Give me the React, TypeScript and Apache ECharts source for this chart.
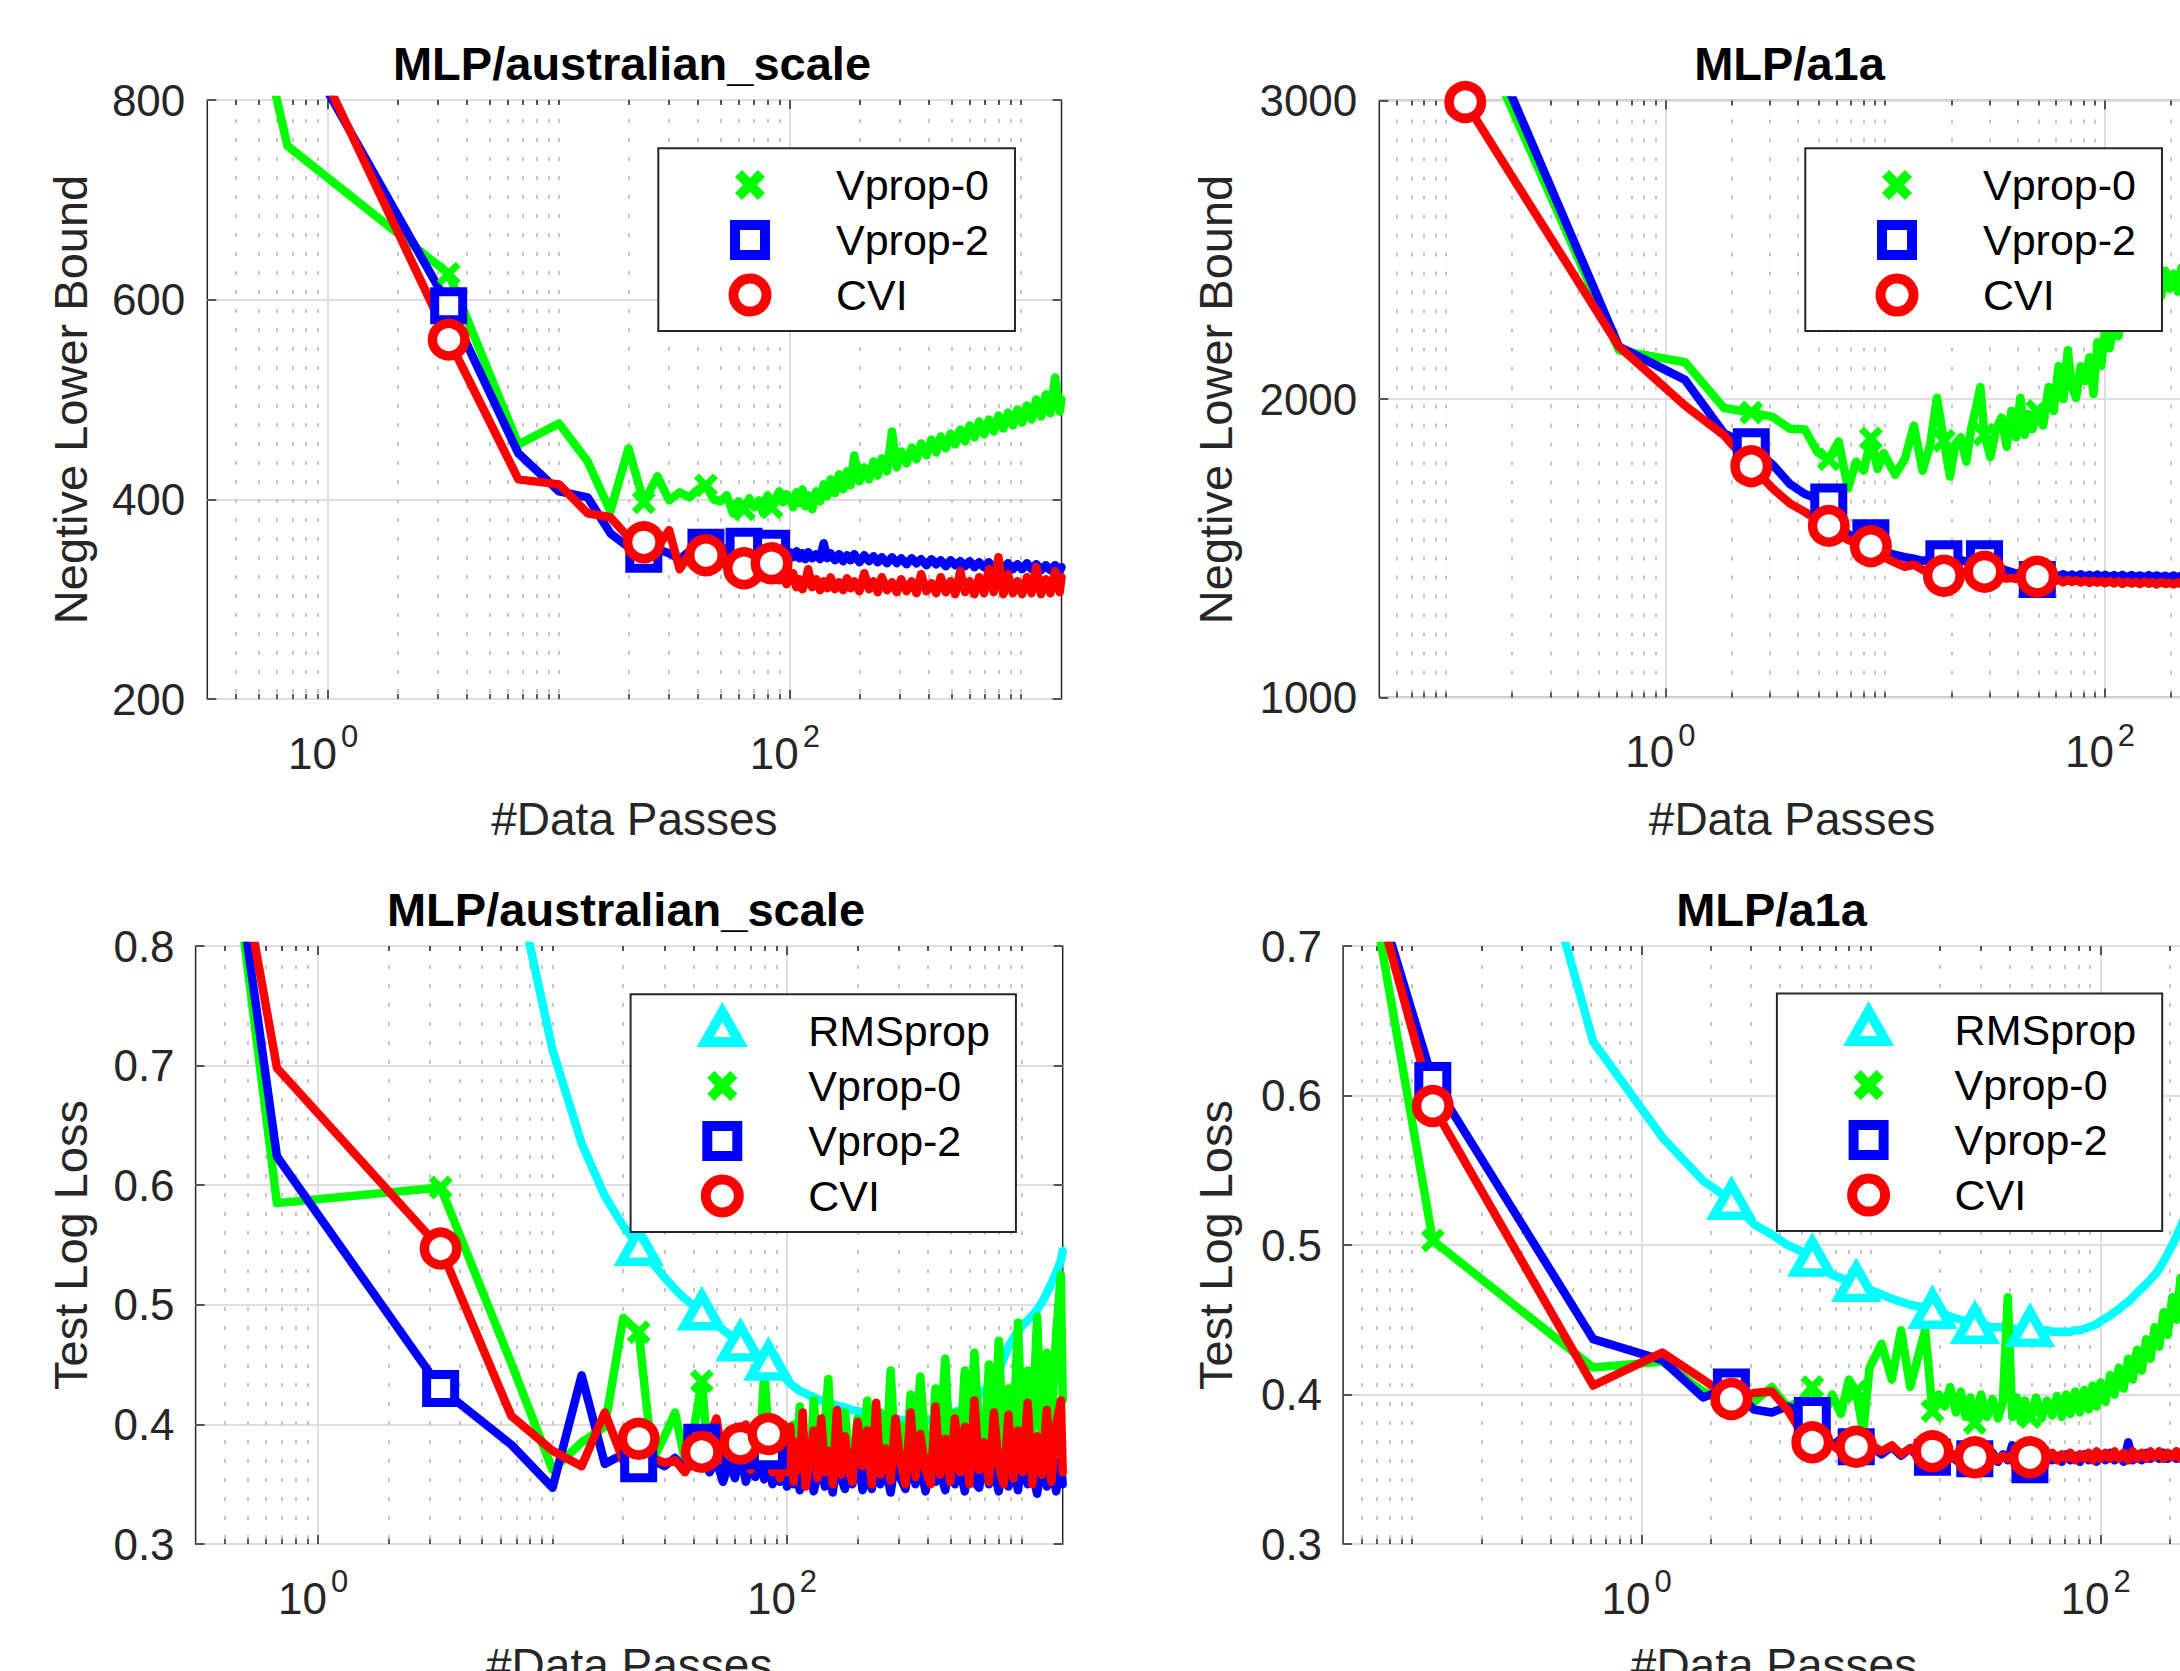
import React, { useEffect, useRef } from "react";
import * as echarts from "echarts";

// ===================== DATA =====================
// x grid (data passes) for the australian_scale runs
const xAus = [
  0.333, 0.667, 3.33, 6.67, 10, 13.3, 16.7, 20,
  23.3, 26.7, 30, 33.3, 36.7, 40, 43.3, 46.7,
  50, 53.3, 56.7, 60, 63.3, 66.7, 70, 73.3,
  76.7, 80, 83.3, 86.7, 90, 93.3, 96.7, 100,
  103.3, 106.7, 110, 113.3, 116.7, 120, 125, 130, 135, 140,
  145, 150, 156.7, 163.3, 170, 176.7, 183.3, 190, 200, 210,
  220, 230, 240, 250, 263.3, 276.7, 290, 303.3, 320, 336.7,
  353.3, 370, 390, 410, 430, 450, 473.3, 496.7, 520, 546.7,
  573.3, 600, 630, 660, 693.3, 726.7, 763.3, 800, 840, 880,
  923.3, 966.7, 1013, 1063, 1113, 1167, 1223, 1283, 1343, 1407,
  1473, 1500,
];
const markIdxAus = [2, 8, 14, 20, 26];

// Negative lower bound, MLP/australian_scale
const tlVprop0 = [
  1060, 754, 626, 455, 476, 438, 388, 451,
  397, 423, 399, 407, 402, 410, 414, 400,
  398, 404, 386, 398, 390, 401, 392, 399,
  386, 404, 392, 401, 408, 397, 405, 401,
  392, 407, 396, 410, 393, 404, 390, 408, 398, 415,
  403, 420, 406, 425, 410, 428, 414, 444, 418, 432,
  420, 438, 424, 441, 428, 468, 432, 448, 436, 452,
  440, 456, 444, 460, 447, 463, 451, 466, 455, 470,
  458, 474, 462, 478, 465, 480, 468, 484, 471, 487,
  474, 490, 477, 494, 480, 500, 483, 505, 486, 522,
  488, 500,
];
const tlVprop2 = [
  1100, 880, 594, 446, 408, 402, 366, 352,
  345, 350, 346, 340, 348, 352, 352, 350,
  353, 349, 352, 348, 353, 350, 347, 351,
  349, 352, 351, 347, 345, 348, 344, 347,
  342, 348, 341, 346, 340, 347, 341, 345, 340, 356,
  341, 346, 339, 345, 338, 344, 339, 345, 337, 344,
  338, 343, 337, 342, 336, 342, 336, 341, 335, 341,
  336, 340, 334, 340, 335, 339, 333, 339, 334, 338,
  333, 338, 332, 337, 332, 337, 331, 336, 331, 336,
  330, 335, 330, 336, 330, 335, 329, 334, 329, 334,
  328, 332,
];
const tlCVI = [
  1120, 901, 560, 420, 415, 386, 382, 362,
  357, 352, 369, 330, 345, 346, 344, 340,
  337, 344, 330, 334, 331, 338, 334, 339,
  336, 333, 336, 324, 319, 323, 315, 320,
  326, 312, 320, 310, 318, 330, 312, 320, 309, 318,
  311, 322, 310, 317, 309, 321, 311, 318, 308, 326,
  310, 318, 307, 322, 309, 317, 307, 320, 308, 318,
  306, 325, 308, 316, 306, 322, 307, 318, 305, 328,
  307, 318, 305, 322, 306, 330, 307, 342, 305, 325,
  306, 318, 305, 322, 306, 332, 305, 320, 306, 328,
  307, 322,
];

// Test log loss, MLP/australian_scale
const blRMSprop = [
  2.0, 1.6, 1.1, 0.872, 0.713, 0.635, 0.591, 0.566,
  0.549, 0.535, 0.523, 0.513, 0.505, 0.499, 0.495, 0.489,
  0.484, 0.479, 0.475, 0.471, 0.469, 0.465, 0.462, 0.459,
  0.457, 0.455, 0.453, 0.45, 0.447, 0.444, 0.44, 0.437,
  0.434, 0.432, 0.43, 0.428, 0.427, 0.426, 0.424, 0.423, 0.421, 0.42,
  0.419, 0.418, 0.417, 0.416, 0.415, 0.414, 0.413, 0.412, 0.411, 0.41,
  0.409, 0.408, 0.407, 0.406, 0.405, 0.405, 0.404, 0.404, 0.403, 0.403,
  0.403, 0.403, 0.404, 0.404, 0.405, 0.406, 0.407, 0.408, 0.41, 0.412,
  0.414, 0.417, 0.42, 0.424, 0.428, 0.433, 0.439, 0.445, 0.455, 0.465,
  0.472, 0.478, 0.483, 0.487, 0.491, 0.496, 0.502, 0.51, 0.518, 0.527,
  0.537, 0.545,
];
const blVprop0 = [
  1.06, 0.585, 0.598, 0.451, 0.362, 0.385, 0.398, 0.489,
  0.477, 0.37, 0.39, 0.41, 0.37, 0.395, 0.436, 0.36,
  0.4, 0.355, 0.385, 0.36, 0.383, 0.37, 0.395, 0.365,
  0.38, 0.445, 0.392, 0.37, 0.385, 0.36, 0.39, 0.37,
  0.37, 0.4, 0.36, 0.415, 0.375, 0.39, 0.355, 0.42, 0.38, 0.365,
  0.4, 0.438, 0.365, 0.39, 0.362, 0.41, 0.375, 0.36, 0.405, 0.37,
  0.42, 0.365, 0.39, 0.41, 0.36, 0.445, 0.37, 0.4, 0.365, 0.425,
  0.372, 0.44, 0.38, 0.365, 0.43, 0.39, 0.455, 0.37, 0.41, 0.375,
  0.445, 0.38, 0.46, 0.395, 0.37, 0.45, 0.385, 0.47, 0.38, 0.43,
  0.39, 0.485, 0.375, 0.445, 0.395, 0.49, 0.38, 0.46, 0.4, 0.475,
  0.525, 0.42,
];
const blVprop2 = [
  1.05, 0.624, 0.43, 0.383, 0.347, 0.441, 0.367, 0.375,
  0.367, 0.37, 0.365, 0.372, 0.362, 0.368, 0.385, 0.36,
  0.37, 0.352, 0.368, 0.355, 0.378, 0.352, 0.368, 0.356,
  0.372, 0.354, 0.378, 0.35, 0.365, 0.352, 0.37, 0.348,
  0.372, 0.35, 0.362, 0.345, 0.376, 0.352, 0.366, 0.344, 0.358, 0.37,
  0.348, 0.364, 0.343, 0.372, 0.355, 0.346, 0.368, 0.35, 0.375, 0.345,
  0.36, 0.346, 0.372, 0.35, 0.364, 0.343, 0.37, 0.356, 0.346, 0.374,
  0.35, 0.366, 0.344, 0.372, 0.352, 0.36, 0.345, 0.376, 0.35, 0.364,
  0.344, 0.37, 0.352, 0.347, 0.374, 0.35, 0.362, 0.344, 0.372, 0.348,
  0.366, 0.345, 0.374, 0.35, 0.36, 0.342, 0.372, 0.348, 0.364, 0.344,
  0.37, 0.35,
];
const blCVI = [
  1.03, 0.698, 0.547, 0.407, 0.378, 0.365, 0.41, 0.37,
  0.388, 0.372, 0.368, 0.37, 0.36, 0.372, 0.377, 0.39,
  0.405, 0.37, 0.395, 0.368, 0.384, 0.4, 0.362, 0.395,
  0.37, 0.405, 0.392, 0.36, 0.39, 0.355, 0.4, 0.36,
  0.398, 0.352, 0.385, 0.362, 0.41, 0.348, 0.372, 0.395, 0.355, 0.405,
  0.36, 0.378, 0.35, 0.412, 0.358, 0.39, 0.362, 0.352, 0.402, 0.365,
  0.395, 0.35, 0.418, 0.358, 0.38, 0.353, 0.405, 0.37, 0.35, 0.41,
  0.356, 0.392, 0.362, 0.35, 0.415, 0.358, 0.388, 0.352, 0.405, 0.36,
  0.398, 0.35, 0.42, 0.362, 0.385, 0.352, 0.41, 0.365, 0.35, 0.408,
  0.355, 0.395, 0.36, 0.418, 0.35, 0.39, 0.358, 0.412, 0.352, 0.4,
  0.42, 0.36,
];

// x grid (data passes) for the a1a runs
const xA1a = [
  0.0615, 0.123, 0.615, 1.23, 1.85, 2.46, 3.08, 3.69, 4.31, 4.92,
  5.54, 6.15, 6.77, 7.38, 8.0, 8.61, 9.23, 9.84, 11.1, 12.3,
  13.5, 14.8, 16.0, 17.2, 18.5, 19.7, 20.9, 22.1, 23.4, 24.6,
  25.8, 27.1, 28.3, 30.1, 32.0, 33.8, 35.7, 37.5, 39.4, 41.2,
  43.1, 44.9, 46.7, 49.2, 52.3, 55.4, 58.4, 61.5, 64.6, 67.7,
  70.7, 73.8, 77.5, 81.2, 84.9, 88.6, 92.3, 96.0, 100, 105,
  110, 115, 120, 126, 132, 138, 144, 151, 158, 165,
  172, 180, 188, 196, 205, 214, 223, 233, 243, 253,
  264, 275, 285,
];
const markIdxA1a = [1, 5, 10, 15, 24, 32, 43];

// Negative lower bound, MLP/a1a
const trVprop0 = [
  3700, 3324, 2163, 2123, 1970, 1955, 1940, 1900, 1898, 1822,
  1798, 1858, 1700, 1790, 1760, 1868, 1766, 1819, 1746, 1800,
  1911, 1760, 1845, 2004, 1860, 1740, 1850, 1872, 1790, 1900,
  1964, 2040, 1880, 1805, 1900, 1938, 1840, 1960, 1872, 2004,
  1880, 1950, 1898, 1960, 1911, 2040, 1960, 2110, 2000, 2163,
  2040, 2004, 2110, 2060, 2140, 2017, 2190, 2110, 2230, 2170,
  2260, 2210, 2300, 2250, 2330, 2280, 2350, 2300, 2380, 2320,
  2400, 2345, 2430, 2370, 2420, 2360, 2440, 2380, 2460, 2400,
  2480, 2420, 2490,
];
const trVprop2 = [
  3800, 3379, 2176, 2064, 1885, 1840, 1780, 1715, 1682, 1665,
  1655, 1580, 1548, 1530, 1524, 1535, 1502, 1488, 1478, 1470,
  1465, 1458, 1462, 1460, 1465, 1458, 1455, 1460, 1455, 1462,
  1458, 1463, 1465, 1450, 1440, 1432, 1425, 1420, 1415, 1418,
  1410, 1412, 1402, 1395, 1412, 1405, 1414, 1406, 1413, 1405,
  1412, 1404, 1413, 1405, 1411, 1404, 1412, 1403, 1411, 1404,
  1410, 1403, 1411, 1402, 1410, 1403, 1409, 1402, 1410, 1403,
  1409, 1402, 1408, 1401, 1409, 1402, 1408, 1401, 1408, 1402,
  1407, 1401, 1406,
];
const trCVI = [
  3500, 2995, 2176, 1978, 1878, 1775, 1700, 1650, 1622, 1595,
  1575, 1545, 1528, 1518, 1512, 1507, 1485, 1470, 1452, 1438,
  1445, 1428, 1418, 1412, 1408, 1411, 1416, 1420, 1416, 1420,
  1422, 1418, 1421, 1412, 1406, 1402, 1398, 1401, 1397, 1403,
  1399, 1402, 1400, 1405, 1392, 1398, 1388, 1395, 1386, 1394,
  1387, 1393, 1385, 1392, 1384, 1391, 1385, 1390, 1383, 1390,
  1382, 1389, 1381, 1388, 1382, 1387, 1380, 1388, 1381, 1386,
  1379, 1387, 1380, 1385, 1379, 1386, 1380, 1385, 1378, 1385,
  1379, 1384, 1380,
];

// Test log loss, MLP/a1a
const brRMSprop = [
  1.15, 1.02, 0.636, 0.572, 0.543, 0.53, 0.514, 0.507, 0.5, 0.496,
  0.492, 0.485, 0.48, 0.478, 0.476, 0.475, 0.472, 0.47, 0.467, 0.464,
  0.462, 0.46, 0.459, 0.458, 0.457, 0.455, 0.454, 0.452, 0.451, 0.45,
  0.449, 0.448, 0.447, 0.446, 0.446, 0.445, 0.445, 0.445, 0.444, 0.444,
  0.444, 0.444, 0.445, 0.445, 0.444, 0.443, 0.443, 0.442, 0.442, 0.442,
  0.442, 0.442, 0.443, 0.443, 0.444, 0.445, 0.446, 0.447, 0.449, 0.451,
  0.453, 0.455, 0.457, 0.46, 0.462, 0.465, 0.468, 0.471, 0.474, 0.477,
  0.48, 0.484, 0.489, 0.494, 0.5, 0.506, 0.512, 0.519, 0.527, 0.535,
  0.544, 0.553, 0.562,
];
const brVprop0 = [
  0.768, 0.503, 0.418, 0.422, 0.402, 0.396, 0.395, 0.405, 0.392, 0.395,
  0.405, 0.384, 0.4, 0.387, 0.41, 0.402, 0.375, 0.418, 0.434, 0.41,
  0.443, 0.405, 0.425, 0.443, 0.389, 0.4, 0.392, 0.405, 0.388, 0.402,
  0.385, 0.398, 0.381, 0.4, 0.385, 0.397, 0.384, 0.395, 0.465, 0.385,
  0.398, 0.382, 0.396, 0.385, 0.398, 0.384, 0.396, 0.386, 0.399, 0.385,
  0.4, 0.387, 0.402, 0.388, 0.403, 0.39, 0.406, 0.392, 0.408, 0.395,
  0.413, 0.4, 0.418, 0.404, 0.424, 0.41, 0.43, 0.416, 0.437, 0.424,
  0.445, 0.432, 0.455, 0.44, 0.465, 0.45, 0.478, 0.462, 0.49, 0.475,
  0.503, 0.488, 0.515,
];
const brVprop2 = [
  0.763, 0.61, 0.437, 0.423, 0.398, 0.405, 0.39, 0.388, 0.392, 0.389,
  0.386, 0.372, 0.366, 0.37, 0.364, 0.365, 0.361, 0.366, 0.36, 0.365,
  0.359, 0.364, 0.358, 0.362, 0.358, 0.362, 0.357, 0.361, 0.356, 0.36,
  0.356, 0.359, 0.357, 0.36, 0.356, 0.361, 0.355, 0.36, 0.356, 0.366,
  0.355, 0.359, 0.354, 0.353, 0.358, 0.355, 0.36, 0.356, 0.359, 0.355,
  0.36, 0.356, 0.359, 0.355, 0.36, 0.356, 0.359, 0.355, 0.36, 0.356,
  0.361, 0.356, 0.359, 0.355, 0.368, 0.356, 0.36, 0.356, 0.361, 0.357,
  0.36, 0.357, 0.361, 0.357, 0.36, 0.357, 0.361, 0.358, 0.361, 0.358,
  0.362, 0.358, 0.361,
];
const brCVI = [
  0.763, 0.593, 0.406, 0.428, 0.41, 0.397, 0.401, 0.402, 0.39, 0.376,
  0.368, 0.369, 0.366, 0.362, 0.366, 0.365, 0.361, 0.367, 0.362, 0.366,
  0.36, 0.364, 0.361, 0.365, 0.362, 0.359, 0.363, 0.357, 0.36, 0.356,
  0.36, 0.357, 0.358, 0.361, 0.357, 0.36, 0.356, 0.359, 0.357, 0.36,
  0.356, 0.359, 0.357, 0.358, 0.356, 0.36, 0.357, 0.361, 0.356, 0.36,
  0.357, 0.361, 0.356, 0.36, 0.357, 0.361, 0.356, 0.362, 0.357, 0.361,
  0.357, 0.362, 0.357, 0.361, 0.356, 0.362, 0.357, 0.361, 0.357, 0.362,
  0.358, 0.362, 0.357, 0.361, 0.358, 0.362, 0.357, 0.362, 0.358, 0.361,
  0.358, 0.362, 0.359,
];

// axis tick values / labels
const majorXTicks = [1, 100];
const xTickExponent: Record<string, string> = { "1": "0", "100": "2" };
const minorXAus = [0.4, 0.5, 0.6, 0.7, 0.8, 0.9, 2, 3, 4, 5, 6, 7, 8, 9, 10, 20, 30, 40, 50, 60, 70, 80, 90, 200, 300, 400, 500, 600, 700, 800, 900, 1000];
const minorXA1a = [0.06, 0.07, 0.08, 0.09, 0.1, 0.2, 0.3, 0.4, 0.5, 0.6, 0.7, 0.8, 0.9, 2, 3, 4, 5, 6, 7, 8, 9, 10, 20, 30, 40, 50, 60, 70, 80, 90, 200];

// ===================== STYLE =====================
const FONT = '"Liberation Sans", Arial, Helvetica, sans-serif';
const INK = "#262626";
const GRID_MAJOR = "#dedede";
const GRID_MINOR = "#c6c6c6";
const LINE_W = 8.5;
const LEGEND_BW = 10;

type MethodStyle = {
  color: string;
  symbol: string;
  size: number | number[];
  bw: number;
  legendIcon: string;
};
const METHOD: Record<string, MethodStyle> = {
  RMSprop: {
    color: "#00ffff",
    symbol: "triangle",
    size: [35, 31],
    bw: 9,
    legendIcon: "path://M0 0M40 40M20 1L37 31L3 31Z",
  },
  "Vprop-0": {
    color: "#00ff00",
    symbol: "path://M0 0L10 10M10 0L0 10",
    size: 19,
    bw: 7,
    legendIcon: "path://M0 0M40 40M8.5 8.5L31.5 31.5M31.5 8.5L8.5 31.5",
  },
  "Vprop-2": {
    color: "#0000ff",
    symbol: "rect",
    size: 28,
    bw: 9,
    legendIcon: "path://M0 0M40 40M5 5L35 5L35 35L5 35Z",
  },
  CVI: {
    color: "#ff0000",
    symbol: "circle",
    size: 32.5,
    bw: 9.5,
    legendIcon: "path://M0 0M40 40M3.5 20A16.5 16.5 0 1 1 36.5 20A16.5 16.5 0 1 1 3.5 20Z",
  },
};

type Panel = {
  box: { left: number; top: number; width: number; height: number };
  xMin: number;
  xMax: number;
  yMin: number;
  yMax: number;
  yInterval: number;
  yLabelMargin: number;
  xs: number[];
  minorX: number[];
  markIdx: number[];
  methods: { name: string; ys: number[] }[];
  legend: { left: number; top: number };
  title: { text: string; x: number; y: number };
  xName: { x: number; y: number };
  yName: { text: string; x: number; y: number };
};

const panels: Panel[] = [
  {
    box: { left: 207.3, top: 100, width: 854.2, height: 599 },
    xMin: 0.3, xMax: 1500, yMin: 200, yMax: 800, yInterval: 200, yLabelMargin: 22,
    xs: xAus, minorX: minorXAus, markIdx: markIdxAus,
    methods: [
      { name: "Vprop-0", ys: tlVprop0 },
      { name: "Vprop-2", ys: tlVprop2 },
      { name: "CVI", ys: tlCVI },
    ],
    legend: { left: 658.3, top: 148.3 },
    title: { text: "MLP/australian_scale", x: 632, y: 63.9 },
    xName: { x: 634.4, y: 818.7 },
    yName: { text: "Negtive Lower Bound", x: 70, y: 399.5 },
  },
  {
    box: { left: 1379.3, top: 100.5, width: 825.7, height: 597 },
    xMin: 0.05, xMax: 285, yMin: 1000, yMax: 3000, yInterval: 1000, yLabelMargin: 22,
    xs: xA1a, minorX: minorXA1a, markIdx: markIdxA1a,
    methods: [
      { name: "Vprop-0", ys: trVprop0 },
      { name: "Vprop-2", ys: trVprop2 },
      { name: "CVI", ys: trCVI },
    ],
    legend: { left: 1805.3, top: 148.3 },
    title: { text: "MLP/a1a", x: 1789.5, y: 63.9 },
    xName: { x: 1792, y: 818.7 },
    yName: { text: "Negtive Lower Bound", x: 1215, y: 399.5 },
  },
  {
    box: { left: 195.6, top: 946, width: 867.1, height: 598 },
    xMin: 0.3, xMax: 1500, yMin: 0.3, yMax: 0.8, yInterval: 0.1, yLabelMargin: 21,
    xs: xAus, minorX: minorXAus, markIdx: markIdxAus,
    methods: [
      { name: "RMSprop", ys: blRMSprop },
      { name: "Vprop-0", ys: blVprop0 },
      { name: "Vprop-2", ys: blVprop2 },
      { name: "CVI", ys: blCVI },
    ],
    legend: { left: 630.6, top: 994.2 },
    title: { text: "MLP/australian_scale", x: 626, y: 909.7 },
    xName: { x: 629.2, y: 1665.4 },
    yName: { text: "Test Log Loss", x: 70, y: 1245 },
  },
  {
    box: { left: 1343.1, top: 946, width: 861.9, height: 598 },
    xMin: 0.05, xMax: 285, yMin: 0.3, yMax: 0.7, yInterval: 0.1, yLabelMargin: 21,
    xs: xA1a, minorX: minorXA1a, markIdx: markIdxA1a,
    methods: [
      { name: "RMSprop", ys: brRMSprop },
      { name: "Vprop-0", ys: brVprop0 },
      { name: "Vprop-2", ys: brVprop2 },
      { name: "CVI", ys: brCVI },
    ],
    legend: { left: 1776.9, top: 993.4 },
    title: { text: "MLP/a1a", x: 1771.5, y: 909.7 },
    xName: { x: 1774, y: 1665.4 },
    yName: { text: "Test Log Loss", x: 1215, y: 1245 },
  },
];

function textEl(text: string, x: number, y: number, size: number, bold: boolean, color: string, rotation = 0) {
  return {
    type: "text",
    x,
    y,
    rotation,
    silent: true,
    style: {
      text,
      font: `${bold ? "bold " : ""}${size}px ${FONT}`,
      fill: color,
      textAlign: "center",
      textVerticalAlign: "middle",
      align: "center",
      verticalAlign: "middle",
    },
  };
}

function buildOption() {
  const grid: any[] = [];
  const xAxis: any[] = [];
  const yAxis: any[] = [];
  const lineSeries: any[] = [];
  const markSeries: any[] = [];
  const legend: any[] = [];
  const graphic: any[] = [];

  const tickLine = { color: INK, width: 1.5 };

  panels.forEach((p, pi) => {
    const gMain = pi * 2;
    const gOver = pi * 2 + 1;
    grid.push({
      ...p.box,
      show: true,
      borderColor: INK,
      borderWidth: 1.5,
      backgroundColor: "transparent",
      containLabel: false,
      outerBoundsMode: "none",
    });
    grid.push({ ...p.box, show: false, containLabel: false, outerBoundsMode: "none" });

    const xBase = { type: "log", logBase: 10, min: p.xMin, max: p.xMax, axisLine: { show: false }, silent: true };
    xAxis.push({
      ...xBase,
      gridIndex: gMain,
      position: "bottom",
      axisTick: { show: true, inside: true, length: 9, customValues: majorXTicks, lineStyle: tickLine },
      axisLabel: {
        show: true,
        customValues: majorXTicks,
        margin: 22,
        padding: [0, 10, 0, 0],
        formatter: (v: number) => {
          const key = String(Math.round(v));
          const e = xTickExponent[key] ?? String(Math.round(Math.log10(v)));
          return `{b|10}{s|${e}}`;
        },
        rich: {
          b: { fontSize: 44, fontFamily: FONT, color: INK, lineHeight: 54, verticalAlign: "bottom" },
          s: { fontSize: 31, fontFamily: FONT, color: INK, verticalAlign: "top", padding: [0, 0, 0, 4] },
        },
      },
      splitLine: { show: true, lineStyle: { color: GRID_MAJOR, width: 2 } },
    });
    xAxis.push({
      ...xBase,
      gridIndex: gMain,
      position: "top",
      axisTick: { show: true, inside: true, length: 9, customValues: majorXTicks, lineStyle: tickLine },
      axisLabel: { show: false },
      splitLine: { show: false },
    });
    xAxis.push({
      ...xBase,
      gridIndex: gOver,
      position: "bottom",
      axisTick: { show: true, inside: true, length: 5, customValues: p.minorX, lineStyle: tickLine },
      axisLabel: { show: false },
      splitLine: { show: true, lineStyle: { color: GRID_MINOR, width: 2, type: [4, 15] } },
    });
    xAxis.push({
      ...xBase,
      gridIndex: gOver,
      position: "top",
      axisTick: { show: true, inside: true, length: 5, customValues: p.minorX, lineStyle: tickLine },
      axisLabel: { show: false },
      splitLine: { show: false },
    });

    const yBase = { type: "value", min: p.yMin, max: p.yMax, interval: p.yInterval, axisLine: { show: false }, silent: true };
    yAxis.push({
      ...yBase,
      gridIndex: gMain,
      position: "left",
      axisTick: { show: true, inside: true, length: 9, lineStyle: tickLine },
      axisLabel: {
        show: true,
        fontSize: 44,
        fontFamily: FONT,
        color: INK,
        margin: p.yLabelMargin,
        padding: [6, 0, 0, 0],
        formatter: (v: number) => String(Math.round(v * 1000) / 1000),
      },
      splitLine: { show: true, lineStyle: { color: GRID_MAJOR, width: 2 } },
    });
    yAxis.push({
      ...yBase,
      gridIndex: gMain,
      position: "right",
      axisTick: { show: true, inside: true, length: 9, lineStyle: tickLine },
      axisLabel: { show: false },
      splitLine: { show: false },
    });
    yAxis.push({ type: "value", gridIndex: gOver, min: 0, max: 1, show: false });

    const xIdx = pi * 4;
    const yIdx = pi * 3;

    p.methods.forEach((m) => {
      const st = METHOD[m.name];
      lineSeries.push({
        type: "line",
        name: `${m.name} (curve)`,
        xAxisIndex: xIdx,
        yAxisIndex: yIdx,
        data: p.xs.map((x, i) => [x, m.ys[i]]),
        showSymbol: false,
        symbol: "none",
        clip: true,
        silent: true,
        z: 2,
        lineStyle: { color: st.color, width: LINE_W, join: "round", cap: "round" },
        emphasis: { disabled: true },
      });
      markSeries.push({
        type: "scatter",
        name: m.name,
        xAxisIndex: xIdx,
        yAxisIndex: yIdx,
        data: p.markIdx.map((i) => [p.xs[i], m.ys[i]]),
        symbol: st.symbol,
        symbolSize: st.size,
        clip: true,
        silent: true,
        z: 3,
        itemStyle: {
          color: m.name === "Vprop-0" ? st.color : "#ffffff",
          borderColor: st.color,
          borderWidth: st.bw,
          borderJoin: "miter",
          opacity: 1,
        },
        emphasis: { disabled: true },
      });
    });

    legend.push({
      show: true,
      orient: "vertical",
      left: p.legend.left,
      top: p.legend.top,
      itemWidth: 162,
      itemHeight: 40,
      itemGap: 5,
      padding: [11.7, 26, 11, 66.7],
      backgroundColor: "#ffffff",
      borderColor: INK,
      borderWidth: 2,
      borderRadius: 0,
      selectedMode: false,
      z: 10,
      textStyle: { fontSize: 43, fontFamily: FONT, color: "#000000" },
      data: p.methods.map((m) => {
        const st = METHOD[m.name];
        return {
          name: m.name,
          icon: st.legendIcon,
          itemStyle: {
            color: m.name === "Vprop-0" ? "none" : "#ffffff",
            borderColor: st.color,
            borderWidth: LEGEND_BW,
            borderJoin: "miter",
            opacity: 1,
          },
        };
      }),
    });

    graphic.push(textEl(p.title.text, p.title.x, p.title.y, 47, true, "#000000"));
    graphic.push(textEl("#Data Passes", p.xName.x, p.xName.y, 46, false, INK));
    graphic.push(textEl(p.yName.text, p.yName.x, p.yName.y, 47, false, INK, Math.PI / 2));
  });

  return {
    animation: false,
    backgroundColor: "#ffffff",
    textStyle: { fontFamily: FONT },
    tooltip: { show: false },
    grid,
    xAxis,
    yAxis,
    legend,
    graphic,
    series: [...lineSeries, ...markSeries],
  };
}

export default function App() {
  const ref = useRef<HTMLDivElement>(null);
  useEffect(() => {
    if (!ref.current) return;
    const chart = echarts.init(ref.current, null, { renderer: "svg", width: 2180, height: 1671 });
    chart.setOption(buildOption() as any);
    return () => {
      chart.dispose();
    };
  }, []);
  return (
    <div
      ref={ref}
      style={{ position: "absolute", left: 0, top: 0, width: 2180, height: 1671, background: "#ffffff", overflow: "hidden" }}
    />
  );
}
